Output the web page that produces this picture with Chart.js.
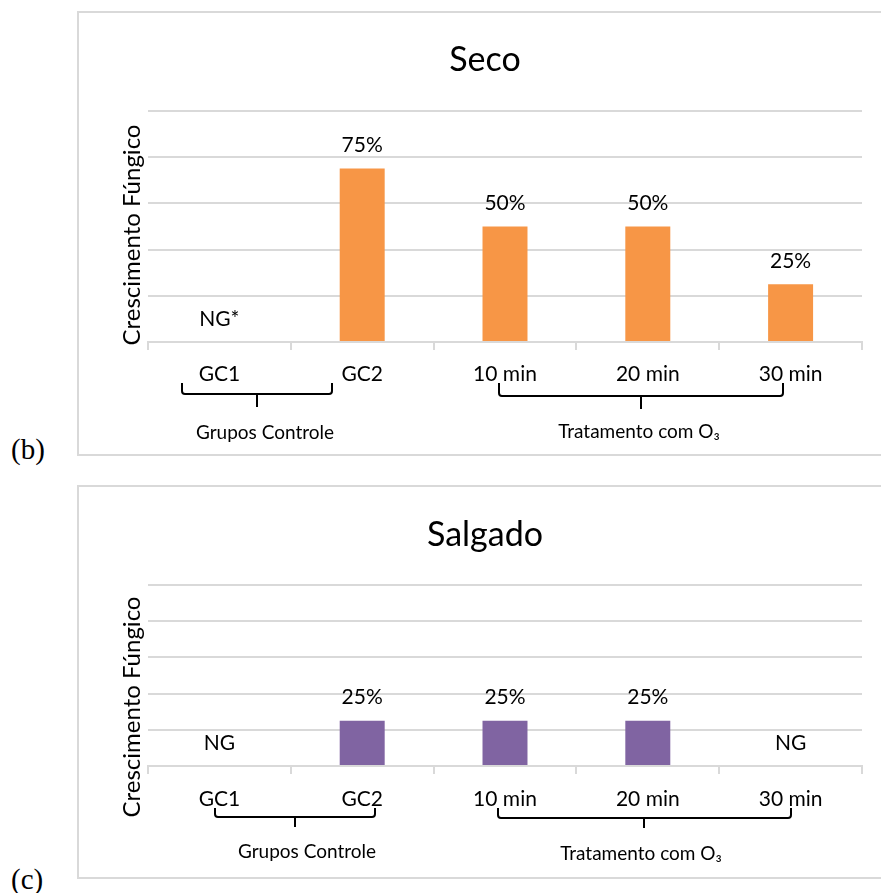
<!DOCTYPE html>
<html>
<head>
<meta charset="utf-8">
<script src="https://cdn.jsdelivr.net/npm/chart.js@4.4.0/dist/chart.umd.min.js"></script>
<style>
  body { margin: 0; background: #fff; width: 881px; height: 893px; overflow: hidden; position: relative; }
  .box { position: absolute; left: 77px; width: 804px; border: 2px solid #d9d9d9; }
  .box canvas { display: block; }
  #box1 { top: 11px; height: 441px; }
  #box2 { top: 485px; height: 390px; }
  .tag { position: absolute; left: 11px; font-family: "Liberation Serif", serif; font-size: 29px; line-height: 29px; color: #000; }
</style>
</head>
<body>
<div class="box" id="box1"><canvas id="seco" width="804" height="441"></canvas></div>
<div class="box" id="box2"><canvas id="salgado" width="804" height="390"></canvas></div>
<div class="tag" style="top:435px">(b)</div>
<div class="tag" style="top:865px">(c)</div>
<script>
// data
var categories = ["GC1", "GC2", "10 min", "20 min", "30 min"];
var secoValues = [0, 75, 50, 50, 25];
var secoLabels = ["NG*", "75%", "50%", "50%", "25%"];
var salgadoValues = [0, 25, 25, 25, 0];
var salgadoLabels = ["NG", "25%", "25%", "25%", "NG"];
var groupNames = ["Grupos Controle", "Tratamento com O\u2083"];
var yAxisTitle = "Crescimento F\u00fangico";
var yMax = 100;
var yStep = 20;

var FONT = 'Lato, "Open Sans", sans-serif';
var GRID = '#d9d9d9';

function drawBrace(ctx, b) {
  var r = 3;
  ctx.beginPath();
  ctx.moveTo(b.x1, b.top);
  ctx.lineTo(b.x1, b.line - r);
  ctx.quadraticCurveTo(b.x1, b.line, b.x1 + r, b.line);
  ctx.lineTo(b.x2 - r, b.line);
  ctx.quadraticCurveTo(b.x2, b.line, b.x2, b.line - r);
  ctx.lineTo(b.x2, b.top);
  ctx.moveTo(b.mid, b.line);
  ctx.lineTo(b.mid, b.tip);
  ctx.stroke();
}

function overlay(o) {
  return {
    id: 'overlay',
    afterDatasetsDraw: function(chart) {
      var ctx = chart.ctx;
      var meta = chart.getDatasetMeta(0);
      ctx.save();
      ctx.fillStyle = '#000';
      ctx.font = '21px ' + FONT;
      ctx.textAlign = 'center';
      ctx.textBaseline = 'middle';
      meta.data.forEach(function(bar, i) {
        ctx.fillText(o.barLabels[i], bar.x, bar.y - 23);
      });
      ctx.restore();
    },
    afterDraw: function(chart) {
      var ctx = chart.ctx;
      ctx.save();
      // y axis title
      ctx.fillStyle = '#000';
      ctx.font = '24px ' + FONT;
      ctx.textAlign = 'center';
      ctx.textBaseline = 'alphabetic';
      ctx.translate(61, o.yTitleY);
      ctx.rotate(-Math.PI / 2);
      ctx.fillText(yAxisTitle, 0, 0);
      ctx.setTransform(1, 0, 0, 1, 0, 0);
      // braces + group names
      ctx.strokeStyle = '#000';
      ctx.lineWidth = 2;
      o.braces.forEach(function(b, i) {
        drawBrace(ctx, b);
        ctx.font = '19px ' + FONT;
        ctx.textBaseline = 'middle';
        ctx.fillText(groupNames[i], b.tx, b.ty);
      });
      ctx.restore();
    }
  };
}

function makeChart(id, o) {
  return new Chart(document.getElementById(id), {
    type: 'bar',
    data: {
      labels: categories,
      datasets: [{
        data: o.values,
        backgroundColor: o.color,
        barPercentage: 0.315,
        categoryPercentage: 1
      }]
    },
    options: {
      responsive: false,
      animation: false,
      layout: { padding: { left: 8, right: 0, top: 0, bottom: 0 } },
      plugins: {
        legend: { display: false },
        tooltip: { enabled: false },
        title: {
          display: true,
          text: o.title,
          color: '#000',
          font: { family: FONT, size: 34, weight: 'normal', lineHeight: 1.2 },
          padding: { top: o.titleTop, bottom: o.titleBottom }
        }
      },
      scales: {
        x: {
          grid: { display: true, drawOnChartArea: false, drawTicks: true, tickLength: 8, color: GRID, lineWidth: 2, offset: true },
          border: { display: true, color: GRID, width: 2 },
          ticks: { color: '#000', font: { family: FONT, size: 21 }, padding: o.tickPad, maxRotation: 0, autoSkip: false },
          afterFit: function(s) { s.height = o.xHeight; }
        },
        y: {
          min: 0,
          max: yMax,
          ticks: { display: false, stepSize: yStep },
          grid: { color: GRID, lineWidth: 2, drawTicks: false },
          border: { display: false },
          afterFit: function(s) { s.width = 61; }
        },
        pad: {
          type: 'linear',
          position: 'right',
          display: true,
          grid: { display: false },
          ticks: { display: false },
          border: { display: false },
          afterFit: function(s) { s.width = 21; }
        }
      }
    },
    plugins: [overlay(o)]
  });
}

makeChart('seco', {
  title: 'Seco',
  values: secoValues,
  barLabels: secoLabels,
  color: '#f79646',
  titleTop: 27,
  titleBottom: 30,
  tickPad: 12,
  xHeight: 112,
  yTitleY: 222,
  braces: [
    { x1: 103, x2: 253, top: 370, line: 381, mid: 178, tip: 394, tx: 186, ty: 420 },
    { x1: 420, x2: 704, top: 370, line: 383, mid: 562, tip: 396, tx: 560, ty: 419 }
  ]
});

makeChart('salgado', {
  title: 'Salgado',
  values: salgadoValues,
  barLabels: salgadoLabels,
  color: '#8064a2',
  titleTop: 28,
  titleBottom: 29,
  tickPad: 13,
  xHeight: 111,
  yTitleY: 220,
  braces: [
    { x1: 136, x2: 296, top: 321, line: 330, mid: 216, tip: 340, tx: 228, ty: 365 },
    { x1: 419, x2: 712, top: 321, line: 331, mid: 565, tip: 341, tx: 562, ty: 367 }
  ]
});
</script>
</body>
</html>
